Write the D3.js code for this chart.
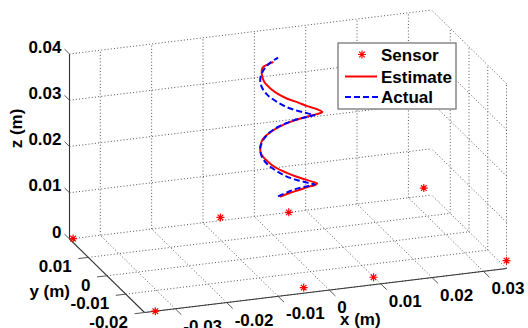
<!DOCTYPE html>
<html><head><meta charset="utf-8">
<script src="https://cdn.jsdelivr.net/npm/d3@7"></script>
<style>
html,body{margin:0;padding:0;background:#fff;}
svg{display:block;}
text{font-family:"Liberation Sans",Arial,Helvetica,sans-serif;font-weight:bold;font-size:17px;fill:#000;}
</style></head>
<body><svg id="chart" width="528" height="328"></svg>
<script>
// ---------- data ----------
const xDomain = [-0.036, 0.0345];
const yDomain = [-0.02, 0.02];
const zDomain = [0, 0.04];
const xTicks = [-0.03, -0.02, -0.01, 0, 0.01, 0.02, 0.03];
const xTickLabels = ["-0.03", "-0.02", "-0.01", "0", "0.01", "0.02", "0.03"];
const yTicks = [-0.02, -0.01, 0, 0.01];
const yTickLabels = ["-0.02", "-0.01", "0", "0.01"];
const zTicks = [0, 0.01, 0.02, 0.03, 0.04];
const zTickLabels = ["0", "0.01", "0.02", "0.03", "0.04"];

const sensorX = [-0.0353, -0.0339, -0.0066, 0.0067, -0.0050, 0.0086, 0.0345, 0.0330];
const sensorY = [0.02, -0.02, 0.02, 0.02, -0.02, -0.02, -0.02, 0.02];
const sensorZ = [0, 0, 0.0007, 0, 0.0012, 0.0016, 0.0017, 0.0017];

const actualX = [-0.0005,0.0014,0.0030,0.0041,0.0045,0.0041,0.0030,0.0014,-0.0005,-0.0024,-0.0040,-0.0051,-0.0055,-0.0051,-0.0040,-0.0024,
                 -0.0005,0.0014,0.0030,0.0041,0.0045,0.0041,0.0030,0.0014,-0.0005,-0.0024,-0.0040,-0.0051,-0.0055,-0.0051,-0.0040,-0.0024,-0.0005];
const actualY = [0.0060,0.0056,0.0045,0.0029,0.0010,-0.0009,-0.0025,-0.0036,-0.0040,-0.0036,-0.0025,-0.0009,0.0010,0.0029,0.0045,0.0056,
                 0.0060,0.0056,0.0045,0.0029,0.0010,-0.0009,-0.0025,-0.0036,-0.0040,-0.0036,-0.0025,-0.0009,0.0010,0.0029,0.0045,0.0056,0.0060];
const actualZ = [0.0100,0.0109,0.0119,0.0128,0.0138,0.0147,0.0156,0.0166,0.0175,0.0184,0.0194,0.0203,0.0213,0.0222,0.0231,0.0241,
                 0.0250,0.0259,0.0269,0.0278,0.0288,0.0297,0.0306,0.0316,0.0325,0.0334,0.0344,0.0353,0.0363,0.0372,0.0381,0.0391,0.0400];

const estX = [-0.0001,0.0016,0.0032,0.0044,0.0049,0.0046,0.0034,0.0014,-0.0005,-0.0024,-0.0040,-0.0051,-0.0056,-0.0051,-0.0040,-0.0024,
              -0.0003,0.0016,0.0035,0.0047,0.0052,0.0056,0.0039,0.0017,-0.0002,-0.0022,-0.0038,-0.0045,-0.0050,-0.0048,-0.0041,-0.0027,-0.0014];
const estY = [0.0060,0.0056,0.0045,0.0029,0.0010,-0.0009,-0.0025,-0.0036,-0.0040,-0.0036,-0.0025,-0.0009,0.0010,0.0029,0.0045,0.0056,
              0.0060,0.0056,0.0045,0.0029,0.0010,-0.0009,-0.0025,-0.0036,-0.0040,-0.0036,-0.0025,-0.0009,0.0010,0.0029,0.0045,0.0056,0.0060];
const estZ = [0.00985,0.01059,0.01153,0.01266,0.0137,0.01484,0.0159,0.01717,0.01819,0.0192,0.02003,0.02096,0.02179,0.02256,0.02345,0.02406,
              0.02497,0.02591,0.02692,0.02795,0.02898,0.03018,0.03166,0.03301,0.03419,0.03514,0.03608,0.0366,0.03729,0.03823,0.03884,0.03895,0.03916];

const legendLabels = ["Sensor", "Estimate", "Actual"];

// ---------- projection (orthographic box) ----------
const origin = [144.5, 312.5];     // (xMin, yMin, zMin) corner on screen
const vX = [362, -44];             // full x range
const vY = [-75, -73.5];           // full y range
const vZ = [0, -185];              // full z range
const sx = d3.scaleLinear().domain(xDomain).range([0, 1]);
const sy = d3.scaleLinear().domain(yDomain).range([0, 1]);
const sz = d3.scaleLinear().domain(zDomain).range([0, 1]);
function P(x, y, z) {
  const a = sx(x), b = sy(y), c = sz(z);
  return [origin[0] + a*vX[0] + b*vY[0] + c*vZ[0],
          origin[1] + a*vX[1] + b*vY[1] + c*vZ[1]];
}
function unit(v){const l=Math.hypot(v[0],v[1]);return [v[0]/l,v[1]/l];}

const svg = d3.select("#chart");
svg.append("rect").attr("width",528).attr("height",328).attr("fill","#fff");

// ---------- grid ----------
const [x0,x1] = xDomain, [y0,y1] = yDomain, [z0,z1] = zDomain;
const segs = [];
xTicks.forEach(t => { segs.push([P(t,y1,z0),P(t,y1,z1)]); segs.push([P(t,y0,z0),P(t,y1,z0)]); });
zTicks.forEach(t => { segs.push([P(x0,y1,t),P(x1,y1,t)]); segs.push([P(x1,y0,t),P(x1,y1,t)]); });
yTicks.forEach(t => { segs.push([P(x0,t,z0),P(x1,t,z0)]); segs.push([P(x1,t,z0),P(x1,t,z1)]); });
svg.append("g").selectAll("line").data(segs).join("line")
  .attr("x1",d=>d[0][0]).attr("y1",d=>d[0][1]).attr("x2",d=>d[1][0]).attr("y2",d=>d[1][1])
  .attr("stroke","#555").attr("stroke-width",1).attr("stroke-dasharray","1,2.2");

// ---------- axes ----------
const axG = svg.append("g");
const axisSegs = [[P(x0,y0,z0),P(x1,y0,z0)],[P(x0,y0,z0),P(x0,y1,z0)],[P(x0,y1,z0),P(x0,y1,z1)]];
axG.selectAll("line.ax").data(axisSegs).join("line").attr("class","ax")
  .attr("x1",d=>d[0][0]).attr("y1",d=>d[0][1]).attr("x2",d=>d[1][0]).attr("y2",d=>d[1][1])
  .attr("stroke","#333").attr("stroke-width",1.1);

const dirNegY = unit([-vY[0],-vY[1]]);
const dirNegX = unit([-vX[0],-vX[1]]);
const dirPosY = unit(vY);
// x ticks
xTicks.forEach((t,i) => {
  const p = P(t,y0,z0);
  axG.append("line").attr("x1",p[0]).attr("y1",p[1]).attr("x2",p[0]+dirNegY[0]*8.5).attr("y2",p[1]+dirNegY[1]*8.5)
    .attr("stroke","#555").attr("stroke-width",1);
  axG.append("text").attr("x",p[0]+8).attr("y",p[1]+23).attr("text-anchor","start").text(xTickLabels[i]);
});
// y ticks
yTicks.forEach((t,i) => {
  const p = P(x0,t,z0);
  axG.append("line").attr("x1",p[0]).attr("y1",p[1]).attr("x2",p[0]+dirNegX[0]*10).attr("y2",p[1]+dirNegX[1]*10)
    .attr("stroke","#555").attr("stroke-width",1);
  axG.append("text").attr("x",p[0]-16.5).attr("y",p[1]+15).attr("text-anchor","end").text(yTickLabels[i]);
});
// z ticks
zTicks.forEach((t,i) => {
  const p = P(x0,y1,t);
  axG.append("line").attr("x1",p[0]).attr("y1",p[1]).attr("x2",p[0]+dirPosY[0]*7).attr("y2",p[1]+dirPosY[1]*7)
    .attr("stroke","#555").attr("stroke-width",1);
  axG.append("text").attr("x",p[0]-8).attr("y",p[1]-1.5).attr("text-anchor","end").text(zTickLabels[i]);
});
// axis titles
svg.append("text").attr("x",340).attr("y",325).attr("text-anchor","start").text("x (m)");
svg.append("text").attr("x",70).attr("y",297).attr("text-anchor","end").text("y (m)");
svg.append("text").attr("transform","translate(21.5,128.5) rotate(-90)").attr("text-anchor","middle").text("z (m)");

// ---------- data marks ----------
const line = d3.line().curve(d3.curveCatmullRom.alpha(0.5));
const actualPts = actualX.map((x,i)=>P(x,actualY[i],actualZ[i]));
const estPts = estX.map((x,i)=>P(x,estY[i],estZ[i]));
svg.append("path").attr("d",line(estPts)).attr("fill","none").attr("stroke","#ff0000").attr("stroke-width",2);
svg.append("path").attr("d",line(actualPts)).attr("fill","none").attr("stroke","#0000ff").attr("stroke-width",2).attr("stroke-dasharray","6,3");

const starPath = "M-4,0H4M0,-4V4M-2.8,-2.8L2.8,2.8M-2.8,2.8L2.8,-2.8";
svg.append("g").selectAll("path").data(sensorX.map((x,i)=>P(x,sensorY[i],sensorZ[i]))).join("path")
  .attr("transform",d=>`translate(${d[0]},${d[1]})`).attr("d",starPath)
  .attr("stroke","#ff0000").attr("stroke-width",1.2).attr("fill","none");

// ---------- legend ----------
const lg = svg.append("g");
lg.append("rect").attr("x",338).attr("y",43).attr("width",118).attr("height",66)
  .attr("fill","#fff").attr("stroke","#777").attr("stroke-width",1.3);
const rowY = [54.5, 76.5, 97];
lg.append("path").attr("transform",`translate(362,${rowY[0]})`).attr("d",starPath)
  .attr("stroke","#ff0000").attr("stroke-width",1.2);
lg.append("line").attr("x1",345).attr("x2",377).attr("y1",rowY[1]).attr("y2",rowY[1])
  .attr("stroke","#ff0000").attr("stroke-width",2);
lg.append("line").attr("x1",345).attr("x2",378).attr("y1",rowY[2]).attr("y2",rowY[2])
  .attr("stroke","#0000ff").attr("stroke-width",2).attr("stroke-dasharray","6,3");
legendLabels.forEach((t,i)=>{
  lg.append("text").attr("x",381).attr("y",rowY[i]+6.2).text(t);
});
</script></body></html>
